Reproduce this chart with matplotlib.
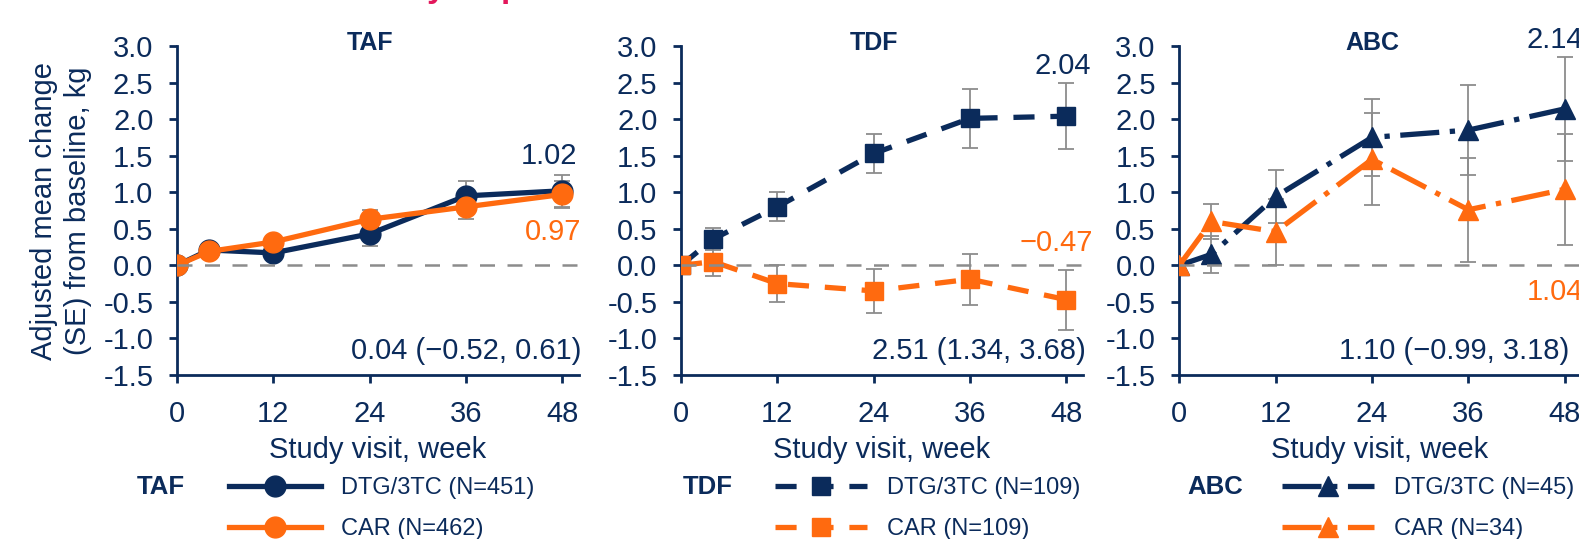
import matplotlib
matplotlib.use("Agg")
import matplotlib.pyplot as plt
from matplotlib.transforms import blended_transform_factory

plt.rcParams['font.family'] = ['Liberation Sans', 'DejaVu Sans']
plt.rcParams['axes.unicode_minus'] = False

# ---------------- data ----------------
weeks = [0, 4, 12, 24, 36, 48]
xticks = [0, 12, 24, 36, 48]
yticks = [-1.5, -1.0, -0.5, 0.0, 0.5, 1.0, 1.5, 2.0, 2.5, 3.0]

panels = ["TAF", "TDF", "ABC"]

taf_dtg = [0, 0.21, 0.17, 0.43, 0.95, 1.02]
taf_dtg_se = [0, 0.05, 0.05, 0.17, 0.20, 0.22]
taf_car = [0, 0.19, 0.32, 0.63, 0.80, 0.97]
taf_car_se = [0, 0.05, 0.06, 0.13, 0.17, 0.18]

tdf_dtg = [0, 0.36, 0.80, 1.53, 2.01, 2.04]
tdf_dtg_se = [0, 0.15, 0.20, 0.27, 0.40, 0.45]
tdf_car = [0, 0.05, -0.25, -0.35, -0.19, -0.47]
tdf_car_se = [0, 0.20, 0.25, 0.30, 0.35, 0.41]

abc_dtg = [0, 0.15, 0.94, 1.75, 1.85, 2.14]
abc_dtg_se = [0, 0.25, 0.36, 0.53, 0.61, 0.71]
abc_car = [0, 0.60, 0.46, 1.45, 0.76, 1.04]
abc_car_se = [0, 0.24, 0.45, 0.63, 0.71, 0.76]

dtg_labels = ["DTG/3TC (N=451)", "DTG/3TC (N=109)", "DTG/3TC (N=45)"]
car_labels = ["CAR (N=462)", "CAR (N=109)", "CAR (N=34)"]

end_dtg = ["1.02", "2.04", "2.14"]
end_car = ["0.97", "\u22120.47", "1.04"]
diff_text = ["0.04 (\u22120.52, 0.61)", "2.51 (1.34, 3.68)", "1.10 (\u22120.99, 3.18)"]

# ---------------- style ----------------
NAVY = '#0B2B5B'
ORANGE = '#FF6A0F'
GREY = '#8C8C8C'
W, H = 1579, 539

fig = plt.figure(figsize=(W / 100, H / 100), dpi=100)

lefts = [177, 681, 1179.3]
ax_w, ax_h = 401.5, 329
ax_bottom = H - 375

dtg_data = [taf_dtg, tdf_dtg, abc_dtg]
dtg_se = [taf_dtg_se, tdf_dtg_se, abc_dtg_se]
car_data = [taf_car, tdf_car, abc_car]
car_se = [taf_car_se, tdf_car_se, abc_car_se]
markers = ['o', 's', '^']
msizes = [15, 12.5, 14]
dash_styles = [None, (4, 3), (7.4, 2, 1, 2)]

# text placements (data coords)
dtg_txt = [(49.8, 1.49, 'right'), (51.1, 2.72, 'right'), (43.2, 3.08, 'left')]
car_txt = [(50.4, 0.45, 'right'), (51.3, 0.31, 'right'), (43.3, -0.37, 'left')]
diff_txt = [50.4, 50.4, 48.5]

leg_handle_x = [229, 775, 1282]
leg_label_x = [137, 683, 1187]
LW = 3.8

for i, name in enumerate(panels):
    ax = fig.add_axes([lefts[i] / W, ax_bottom / H, ax_w / W, ax_h / H])
    ax.set_xlim(0, 50)
    ax.set_ylim(-1.5, 3.0)

    ax.axhline(0, color=GREY, lw=1.8, dashes=(6, 5), zorder=5)

    for vals, se, col, lab in [(dtg_data[i], dtg_se[i], NAVY, dtg_labels[i]),
                               (car_data[i], car_se[i], ORANGE, car_labels[i])]:
        ax.errorbar(weeks, vals, yerr=se, fmt='none', ecolor=GREY,
                    elinewidth=1.3, capsize=6, capthick=1.3, zorder=2)
        kw = dict(color=col, lw=LW, marker=markers[i], markersize=msizes[i],
                  markerfacecolor=col, markeredgecolor=col, label=lab, zorder=3)
        if dash_styles[i] is not None:
            kw['dashes'] = dash_styles[i]
        ax.plot(weeks, vals, **kw)

    # axes style
    for s in ['top', 'right']:
        ax.spines[s].set_visible(False)
    for s in ['left', 'bottom']:
        ax.spines[s].set_color(NAVY)
        ax.spines[s].set_linewidth(2)
    ax.set_xticks(xticks)
    ax.set_yticks(yticks)
    ax.set_yticklabels([f"{v:.1f}" for v in yticks])
    ax.tick_params(axis='both', colors=NAVY, labelsize=21, length=6, width=2,
                   direction='out')
    ax.tick_params(axis='y', pad=11)
    ax.tick_params(axis='x', pad=12)
    ax.set_xlabel("Study visit, week", fontsize=21, color=NAVY, labelpad=5.5)
    if i == 0:
        ax.set_ylabel("Adjusted mean change\n(SE) from baseline, kg",
                      fontsize=21, color=NAVY, labelpad=8, linespacing=1.3)

    tr = blended_transform_factory(ax.transData, ax.transAxes)
    ax.text(24, 1.009, name, transform=tr, ha='center', va='center',
            fontsize=18, fontweight='bold', color=NAVY)

    x, y, ha = dtg_txt[i]
    ax.text(x, y, end_dtg[i], ha=ha, va='center', fontsize=21, color=NAVY)
    x, y, ha = car_txt[i]
    ax.text(x, y, end_car[i], ha=ha, va='center', fontsize=21, color=ORANGE)
    ax.text(diff_txt[i], -1.17, diff_text[i], ha='right', va='center',
            fontsize=21, color=NAVY)

    # legend
    leg = ax.legend(loc='upper left',
                    bbox_to_anchor=(leg_handle_x[i] / W, 1 - 477 / H),
                    bbox_transform=fig.transFigure, frameon=False,
                    fontsize=17, handlelength=3.9, handletextpad=0.85,
                    labelspacing=0.8, borderpad=0, borderaxespad=0)
    for t in leg.get_texts():
        t.set_color(NAVY)
    fig.text(leg_label_x[i] / W, 1 - 487 / H, name, ha='left', va='center',
             fontsize=18.5, fontweight='bold', color=NAVY)

# cropped slide heading fragments at the very top
fig.text(427 / W, 1 + 3 / H, "y", ha='left', va='baseline', fontsize=24,
         fontweight='bold', color='#E3175B')
fig.text(501 / W, 1 + 3 / H, "p", ha='left', va='baseline', fontsize=24,
         fontweight='bold', color='#E3175B')

fig.savefig("out.png", dpi=100)
